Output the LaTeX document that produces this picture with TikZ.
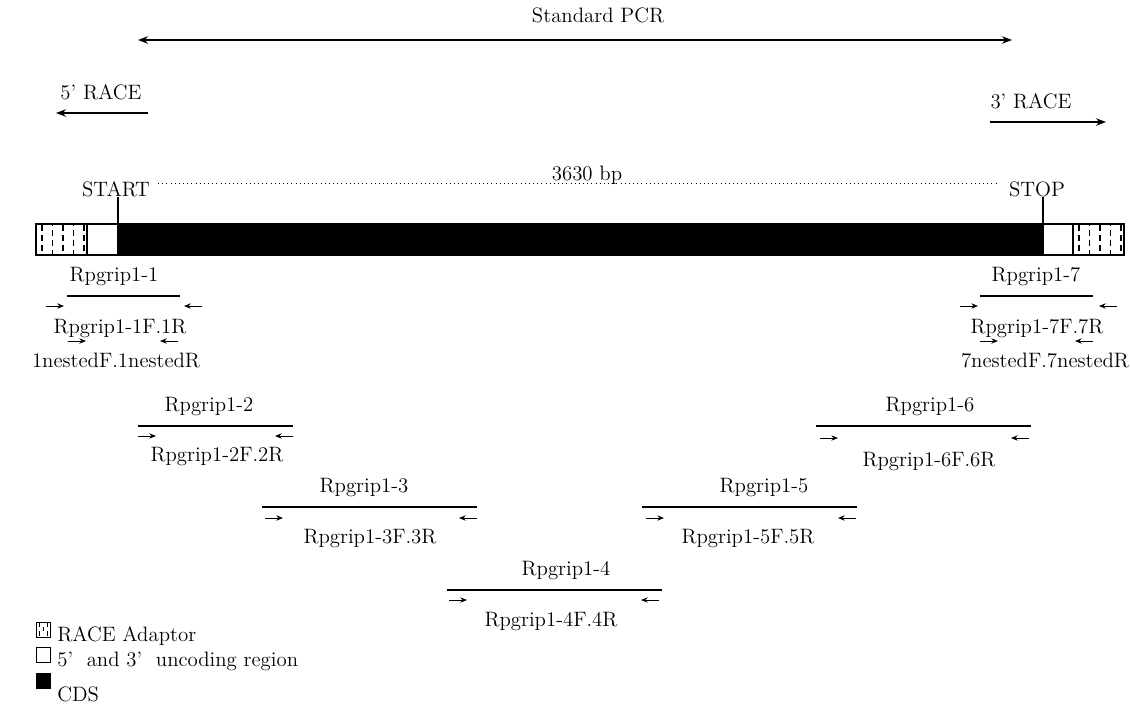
\documentclass[tikz,border=0pt]{standalone}
\usetikzlibrary{arrows.meta}
\begin{document}
\begin{tikzpicture}[x=0.6pt,y=-0.6pt,
    every node/.style={font=\fontsize{12.5}{15}\selectfont, inner sep=0pt},
    amplicon/.style={line width=0.7pt},
    primer/.style={-{Stealth[length=4pt,width=3.2pt]}, line width=0.6pt},
    race/.style={-{Stealth[length=6pt,width=4.5pt]}, line width=0.8pt},
    hatch/.style={line width=0.7pt, dash pattern=on 3.4pt off 2.6pt}]
    \useasboundingbox (0,0) rectangle (1130,713);

    % PCR and RACE directions
    \node (pcr) at (598,15) {Standard PCR};
    \coordinate (pcrl) at (138,40);
    \coordinate (pcrr) at (1012,40);
    \draw[race, {Stealth[length=6pt,width=4.5pt]}-{Stealth[length=6pt,width=4.5pt]}] (pcrl) -- (pcrr);

    \node (race5) at (101,92) {5\textquoteright\ RACE};
    \coordinate (race5a) at (148,113);
    \coordinate (race5b) at (56,113);
    \draw[race] (race5a) -- (race5b);

    \node (race3) at (1031,101) {3\textquoteright\ RACE};
    \coordinate (race3a) at (990,122);
    \coordinate (race3b) at (1106,122);
    \draw[race] (race3a) -- (race3b);

    % length of the transcript
    \node (bp) at (587,175) {3630 bp};
    \coordinate (bpl) at (158,183);
    \coordinate (bpr) at (998,183);
    \draw[dotted, line width=0.5pt] (bpl) -- (bpr);

    % the transcript
    \draw[line width=0.7pt] (36,224) rectangle (87,255);
    \draw[line width=0.7pt] (87,224) rectangle (118,255);
    \filldraw[line width=0.7pt] (118,224) rectangle (1043,255);
    \draw[line width=0.7pt] (1043,224) rectangle (1073,255);
    \draw[line width=0.7pt] (1073,224) rectangle (1124,255);
    \foreach \x in {0,1,2,3,4} {
        \draw[hatch, dash phase={mod(\x,2)*3pt}] (42+\x*10.5,225) -- (42+\x*10.5,255);
        \draw[hatch, dash phase={mod(\x,2)*3pt}] (1079+\x*10.5,225) -- (1079+\x*10.5,255);
    }

    \node (start) at (116,189) {START};
    \coordinate (cdsl) at (118,224);
    \draw[line width=0.7pt] (cdsl) -- (cdsl |- start.south);
    \node (stop) at (1037,189) {STOP};
    \coordinate (cdsr) at (1043,224);
    \draw[line width=0.7pt] (cdsr) -- (cdsr |- stop.south);

    % amplicons: id/line from/line to/line y/forward at/reverse at/arrow y/label x/primer x/primer y
    \foreach \n/\la/\lb/\ly/\fa/\ra/\ay/\lx/\tx/\ty in {
        1/67/180/296/46/202/306/114/120/329,
        2/138/293/426/138/293/436/209/217/457,
        3/262/477/507/265/477/518/364/370/539,
        4/447/662/590/449/659/600/566/551/622,
        5/642/857/507/646/856/518/764/748/539,
        6/816/1031/426/820/1029/438/930/929/462,
        7/980/1093/296/960/1117/306/1036/1037/329} {
        \node (amp\n) at (\lx,\ly-19) {Rpgrip1-\n};
        \coordinate (ampl\n) at (\la,\ly);
        \coordinate (ampr\n) at (\lb,\ly);
        \draw[amplicon] (ampl\n) -- (ampr\n);
        \coordinate (fwa\n) at (\fa,\ay);
        \coordinate (fwb\n) at (\fa+18,\ay);
        \draw[primer] (fwa\n) -- (fwb\n);
        \coordinate (rva\n) at (\ra,\ay);
        \coordinate (rvb\n) at (\ra-18,\ay);
        \draw[primer] (rva\n) -- (rvb\n);
        \node (pr\n) at (\tx,\ty) {Rpgrip1-\n F.\n R};
    }

    % nested primers
    \coordinate (nfa1) at (68,341);
    \coordinate (nfb1) at (86,341);
    \draw[primer] (nfa1) -- (nfb1);
    \coordinate (nra1) at (178,341);
    \coordinate (nrb1) at (160,341);
    \draw[primer] (nra1) -- (nrb1);
    \node (nest1) at (116,360) {1nestedF.1nestedR};

    \coordinate (nfa7) at (980,341);
    \coordinate (nfb7) at (998,341);
    \draw[primer] (nfa7) -- (nfb7);
    \coordinate (nra7) at (1093,341);
    \coordinate (nrb7) at (1075,341);
    \draw[primer] (nra7) -- (nrb7);
    \node (nest7) at (1045,360) {7nestedF.7nestedR};

    % legend
    \draw[line width=0.6pt] (36,622) rectangle (50,637);
    \draw[line width=0.6pt] (39,623) -- (39,627);
    \draw[line width=0.6pt] (39,631) -- (39,636);
    \draw[line width=0.6pt] (43,627) -- (43,631);
    \draw[line width=0.6pt] (47,623) -- (47,627);
    \draw[line width=0.6pt] (47,631) -- (47,636);
    \node[anchor=west] (legrace) at (57,636) {RACE Adaptor};

    \draw[line width=0.6pt] (36,647) rectangle (50,662);
    \node[anchor=west] (legutr) at (57,661) {5\textquoteright\ \ and 3\textquoteright\ \ uncoding region};

    \filldraw[line width=0.6pt] (36,673) rectangle (50,688);
    \node[anchor=west] (legcds) at (57,694) {CDS};
\end{tikzpicture}
\end{document}
